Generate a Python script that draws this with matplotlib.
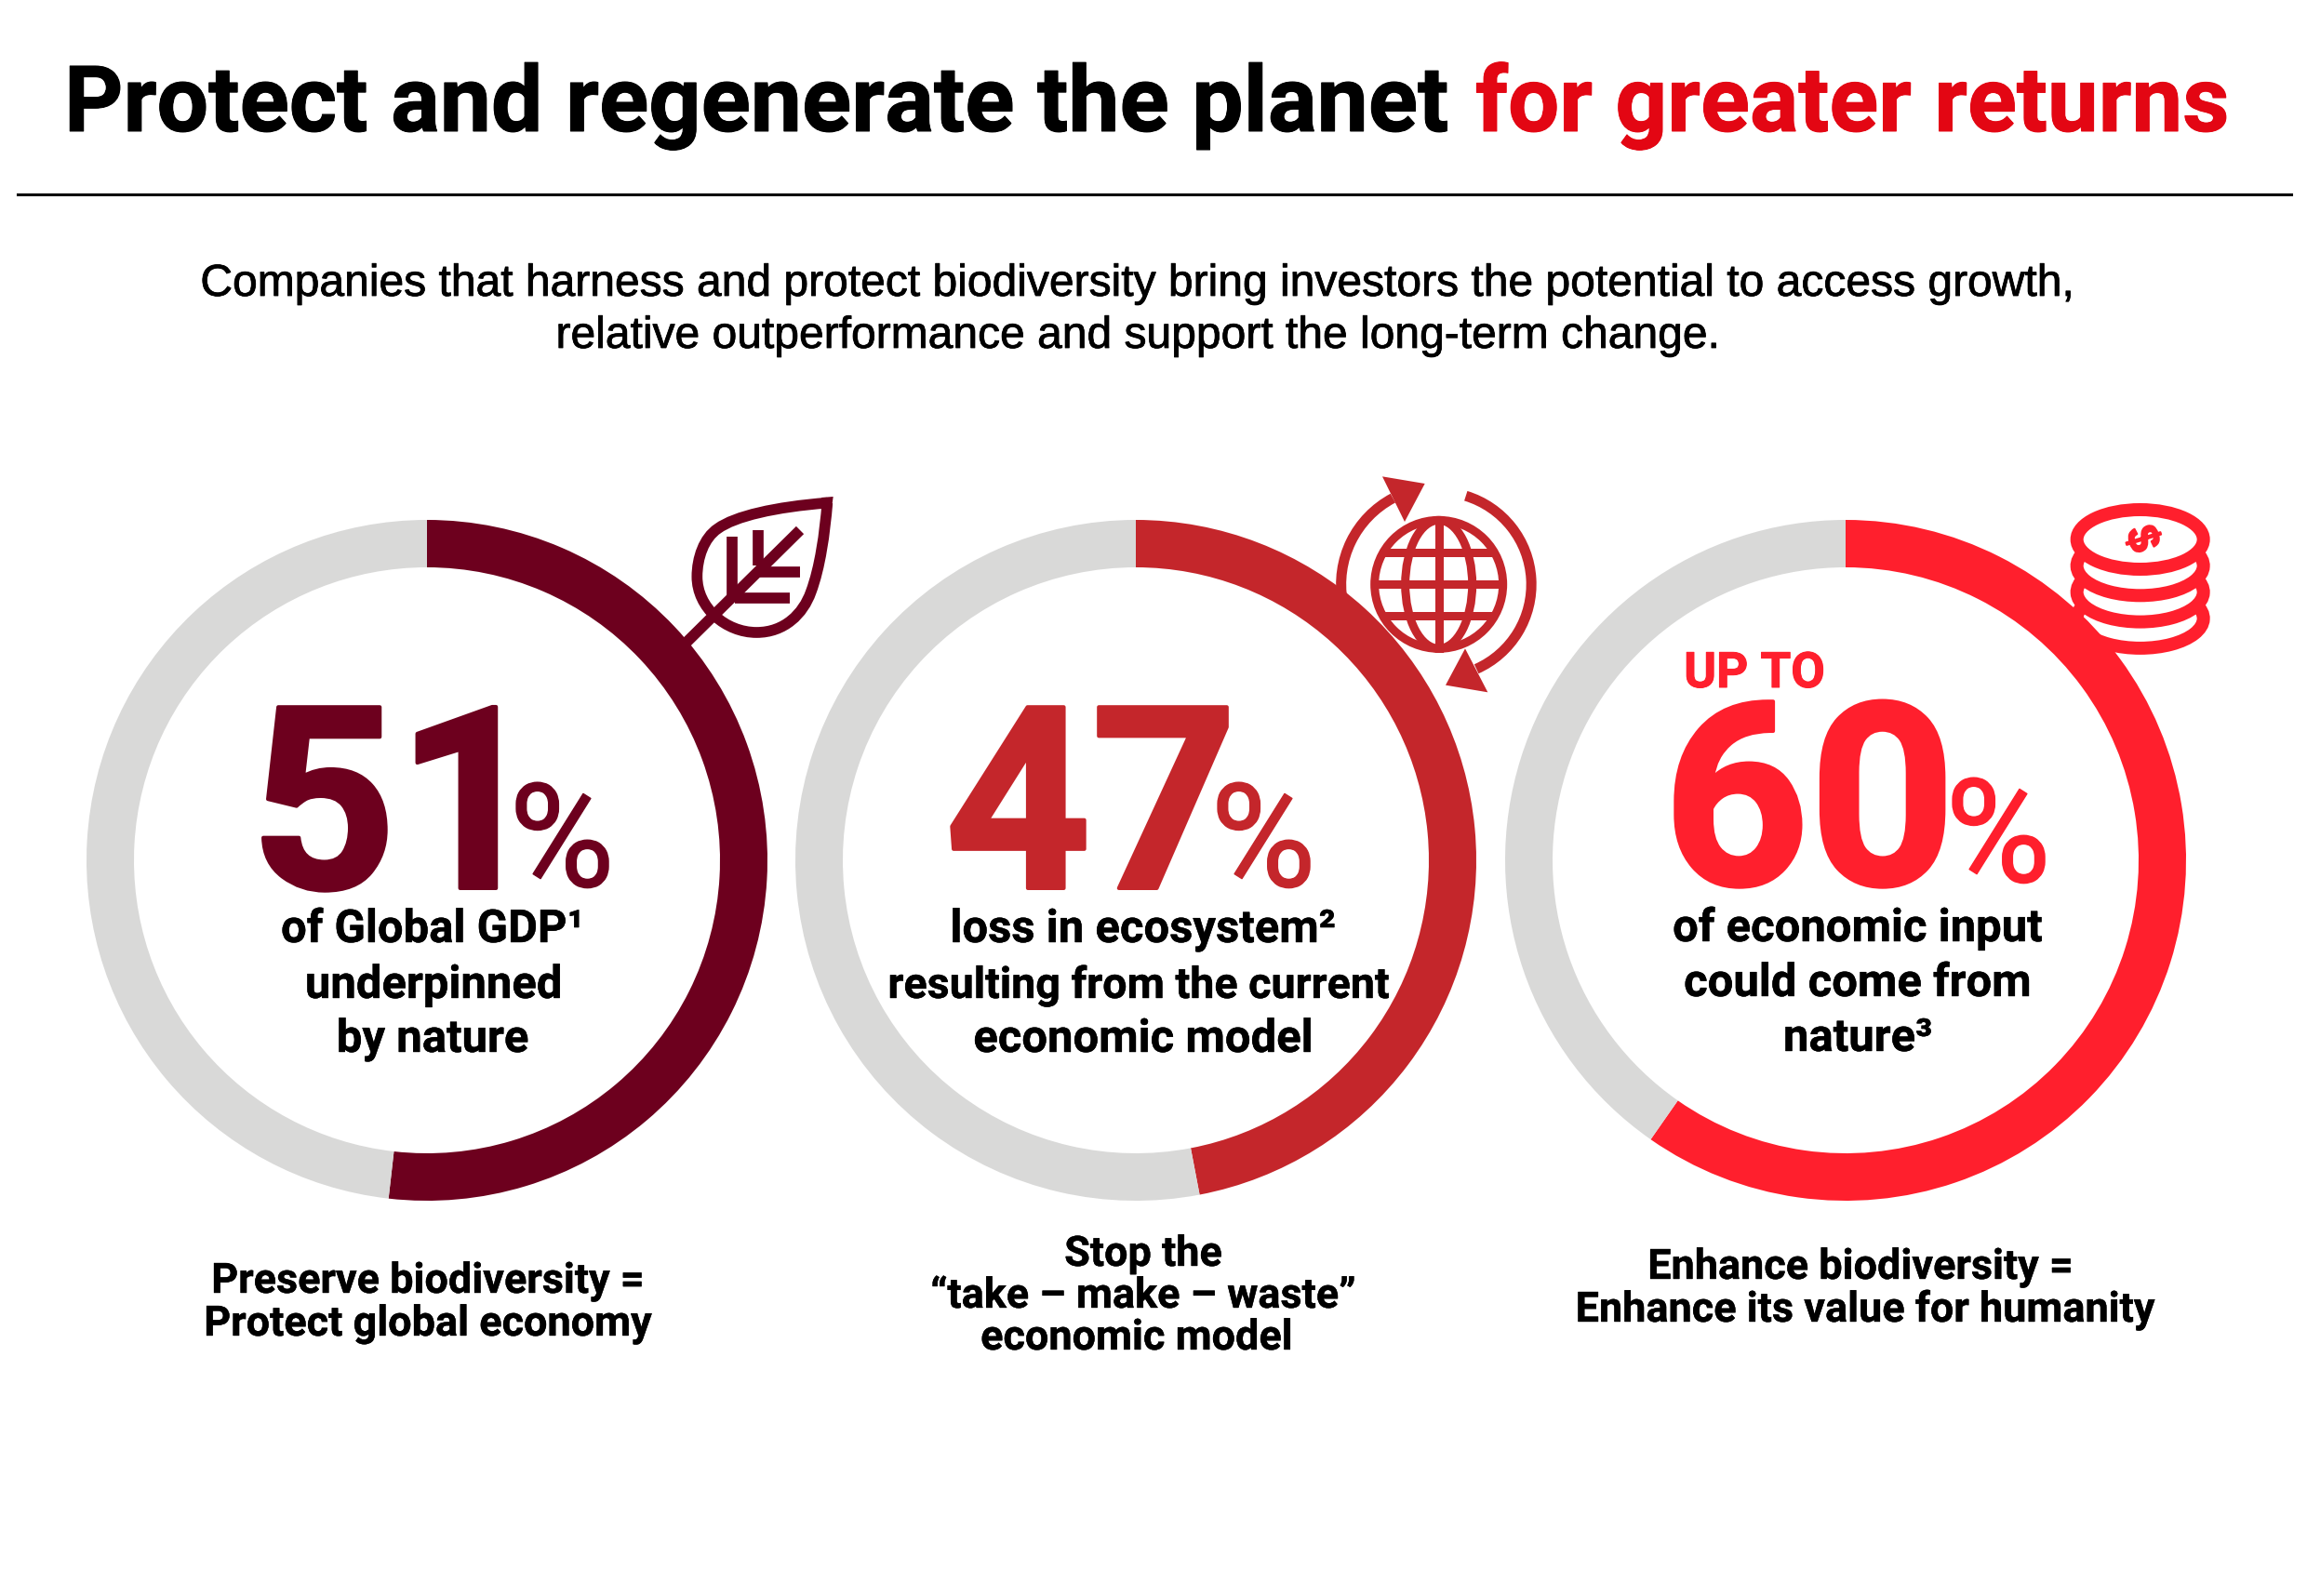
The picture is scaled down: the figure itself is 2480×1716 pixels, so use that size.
import matplotlib
matplotlib.use("Agg")
import matplotlib.pyplot as plt
import numpy as np
from matplotlib.path import Path
from matplotlib.patches import PathPatch, Circle, Ellipse, Arc, Polygon
from matplotlib import patheffects as pe

W, H = 2480, 1716
# share of each ring as drawn in the picture
values = [51.8, 47, 59.7]
colors = ["#6D001E", "#C4262B", "#FF1F2D"]
gray = "#D9D9D8"
title_black = "Protect and regenerate the planet"
title_red = "for greater returns"
subtitle = ["Companies that harness and protect biodiversity bring investors the potential to access growth,",
            "relative outperformance and support the long-term change."]
numbers = ["51", "47", "60"]
mid_text = [["of Global GDP¹", "underpinned", "by nature"],
            ["loss in ecosystem²", "resulting from the current", "economic model"],
            ["of economic input", "could come from", "nature³"]]
bottom_text = [["Preserve biodiversity =", "Protect global economy"],
               ["Stop the", "“take – make – waste”", "economic model"],
               ["Enhance biodiversity =", "Enhance its value for humanity"]]

MAIN = "Roboto"
fig = plt.figure(figsize=(W / 100, H / 100), dpi=100, facecolor="white")

def full_ax(z):
    a = fig.add_axes([0, 0, 1, 1], zorder=z)
    a.set_xlim(0, W); a.set_ylim(H, 0); a.axis("off"); a.patch.set_alpha(0)
    return a

icons = full_ax(1)
top = full_ax(3)

def T(x, y, s, px, color="black", ha="center", weight="bold", family=MAIN, stroke=0):
    t = top.text(x, y, s, fontsize=px * 0.72, color=color, ha=ha, va="baseline",
                 fontweight=weight, family=family)
    if stroke:
        t.set_path_effects([pe.withStroke(linewidth=stroke * 0.72, foreground=color)])
    return t

# Rings
centers = [459, 1221, 1984]
cy, R, width = 925, 366, 51
for cx, v, c in zip(centers, values, colors):
    a = fig.add_axes([(cx - R) / W, 1 - (cy + R) / H, 2 * R / W, 2 * R / H], zorder=2)
    a.pie([v, 100 - v], colors=[c, gray], startangle=90, counterclock=False, radius=1,
          wedgeprops=dict(width=width / R))
    a.set_xlim(-1, 1); a.set_ylim(-1, 1); a.patch.set_alpha(0)

# Header
T(69, 141, title_black, 98.5, ha="left", stroke=1)
T(1586, 141, title_red, 97.8, color="#E30613", ha="left", stroke=1)
icons.plot([19, 2463], [209, 209], color="black", lw=2.2)
for y, s in zip([318, 374], subtitle):
    T(1224, y, s, 48, weight="regular", family="Liberation Sans", stroke=0.8)

# Big numbers
num_x = [426, 1173, 1945]
pct_x = [604, 1358, 2148]
num_y = [955, 955, 951]
pct_y = [953, 953, 948]
for i in range(3):
    T(num_x[i], num_y[i], numbers[i], 274, color=colors[i], stroke=4)
    T(pct_x[i], pct_y[i], "%", 155, color=colors[i], weight="regular", stroke=1.5)
T(1886, 739, "UP TO", 53, color=colors[2], stroke=1)

# Middle and bottom captions
mid_x = [[465, 466, 465], [1229, 1224, 1229], [1997, 1997, 1997]]
mid_y = [[1013, 1073, 1131], [1013, 1073, 1131], [1012, 1071, 1130]]
mid_px = [[49, 49, 49], [49, 46.6, 49], [49, 49, 49]]
for i in range(3):
    for x, y, s, px in zip(mid_x[i], mid_y[i], mid_text[i], mid_px[i]):
        T(x, y, s, px, stroke=0.4)
bot_x = [[460, 460], [1229, 1229, 1222], [2000, 2005]]
bot_y = [[1390, 1436], [1361, 1406, 1451], [1375, 1421]]
for i in range(3):
    for x, y, s in zip(bot_x[i], bot_y[i], bottom_text[i]):
        T(x, y, s, 45, stroke=0.4)

# Leaf icon (zoom-crop coordinates: origin 700,500, scale 3)
def Z(ox, oy, pts):
    return [(ox + p[0] / 3, oy + p[1] / 3) for p in pts]
lw_leaf = 11.7 * 0.72
leaf_pts = [(568, 122), (400, 135), (270, 165), (215, 205), (170, 235), (148, 300), (148, 360),
            (148, 460), (240, 540), (340, 540), (430, 540), (490, 480), (515, 410), (545, 330), (560, 220), (568, 122)]
icons.add_patch(PathPatch(Path(Z(700, 500, leaf_pts), [Path.MOVETO] + [Path.CURVE4] * 15),
                          fc="none", ec=colors[0], lw=lw_leaf, joinstyle="miter"))
icons.add_patch(Polygon(Z(700, 500, [(587, 102), (548, 105), (582, 140)]), fc=colors[0], ec="none"))
for seg in [[(60, 625), (480, 210)], [(262, 230), (262, 420)], [(345, 210), (345, 325)],
            [(345, 345), (480, 345)], [(270, 428), (447, 428)]]:
    p = Z(700, 500, seg)
    icons.plot(*zip(*p), color=colors[0], lw=lw_leaf, solid_capstyle="butt")

# Globe icon (origin 1400,490)
gc = Z(1400, 490, [(440, 415)])[0]
c = colors[1]
lw = 9 * 0.72
icons.add_patch(Circle(gc, 69, fc="white", ec=c, lw=lw))
icons.add_patch(Ellipse(gc, 72, 138, fc="none", ec=c, lw=lw))
icons.plot([gc[0], gc[0]], [gc[1] - 69, gc[1] + 69], color=c, lw=lw)
for dy in (-34, 0, 34):
    dx = np.sqrt(69 ** 2 - dy ** 2)
    icons.plot([gc[0] - dx, gc[0] + dx], [gc[1] + dy, gc[1] + dy], color=c, lw=lw, solid_capstyle="butt")
lw2 = 11 * 0.72
icons.add_patch(Arc(gc, 210, 210, theta1=170, theta2=242, color=c, lw=lw2))
icons.add_patch(Arc(gc, 199, 199, theta1=-73, theta2=66, color=c, lw=lw2))
icons.add_patch(Polygon(Z(1400, 490, [(258, 67), (395, 90), (330, 213)]), fc=c, ec="none"))
icons.add_patch(Polygon(Z(1400, 490, [(525, 622), (462, 740), (598, 763)]), fc=c, ec="none"))

# Coins icon (origin 2180,520)
c = colors[2]
ctr = Z(2180, 520, [(362, 180)])[0]
a_, b_ = 68, 32
lw3 = 14 * 0.72
for k in (1, 2, 3):
    icons.add_patch(Arc((ctr[0], ctr[1] + k * 28.3), 2 * a_, 2 * b_, theta1=-14, theta2=194, color=c, lw=lw3))
icons.add_patch(Ellipse(ctr, 2 * a_, 2 * b_, fc="white", ec=c, lw=lw3, zorder=3))
dollar = icons.text(ctr[0], ctr[1], "$", fontsize=34, color=c, rotation=-73, ha="center", va="center",
                    fontweight="bold", family="Liberation Sans", rotation_mode="anchor", zorder=4)
dollar.set_path_effects([pe.withStroke(linewidth=1.5, foreground=c)])

fig.savefig("out.png", dpi=100, facecolor="white")
